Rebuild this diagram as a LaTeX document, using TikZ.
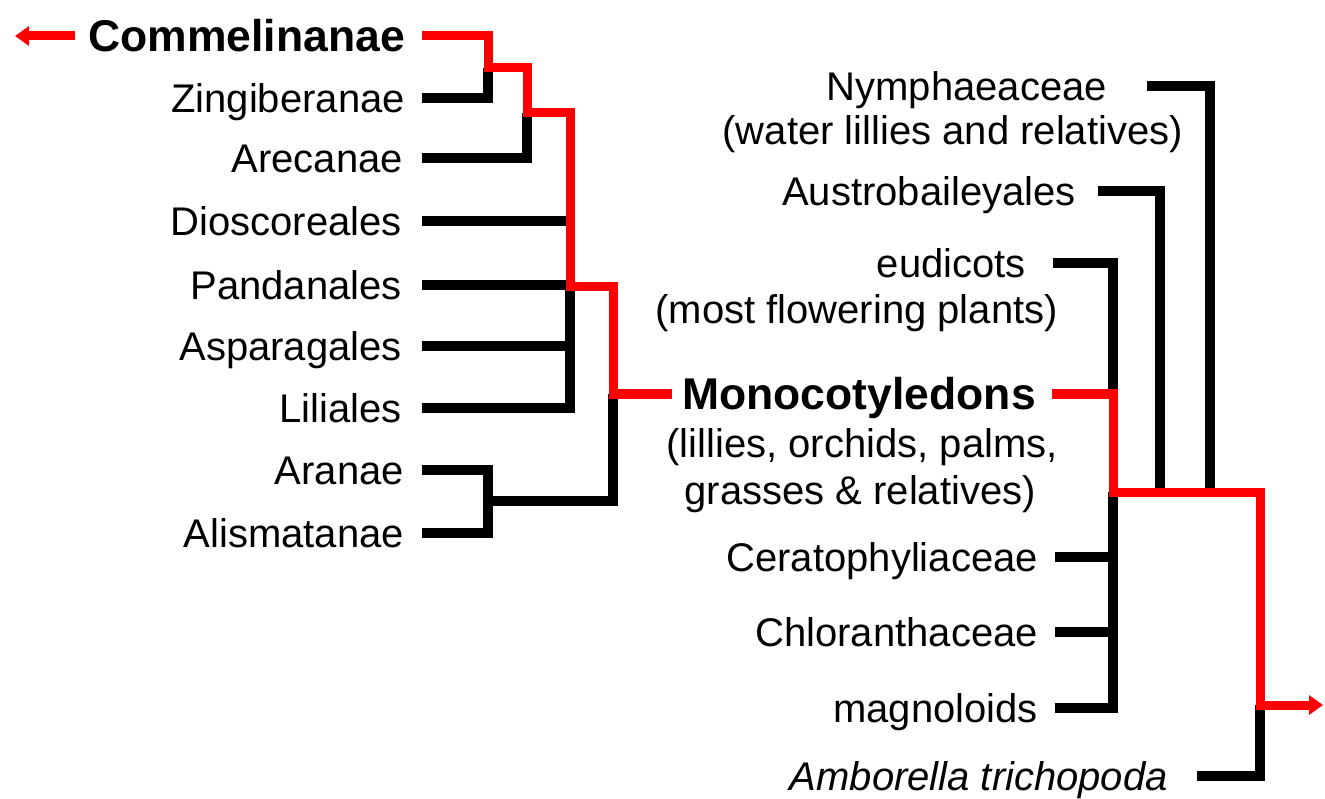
\documentclass[tikz,border=0pt]{standalone}
\usepackage{fontspec}
\setmainfont{Liberation Sans}
\usetikzlibrary{arrows.meta}
\begin{document}
\begin{tikzpicture}[x=1pt,y=-1pt,
  lbl/.style={inner sep=0pt, anchor=east, font=\fontsize{40}{44}\selectfont, text height=28.6pt, text depth=0pt},
  blbl/.style={inner sep=0pt, anchor=east, font=\fontsize{44.5}{48}\selectfont\bfseries, text height=31.8pt, text depth=0pt},
  blk/.style={line width=10pt, black, line cap=butt, line join=miter},
  rln/.style={line width=9pt, red, line cap=butt, line join=miter},
  tip/.style={-{Triangle[length=14pt,width=19pt]}}
]
\path[use as bounding box] (0,0) rectangle (1325,799);

% left labels
\node[blbl] (com) at (405,36) {Commelinanae};
\node[lbl] (zin) at (405,98) {Zingiberanae};
\node[lbl] (are) at (403,158) {Arecanae};
\node[lbl] (dio) at (402,221) {Dioscoreales};
\node[lbl] (pan) at (402,285) {Pandanales};
\node[lbl] (asp) at (402,346) {Asparagales};
\node[lbl] (lil) at (402,408) {Liliales};
\node[lbl] (ara) at (404,470) {Aranae};
\node[lbl] (ali) at (404,533) {Alismatanae};

% right labels
\node[lbl] (nym) at (1107,86) {Nymphaeaceae};
\node[lbl] (nyms) at (1183,130) {(water lillies and relatives)};
\node[lbl] (aus) at (1076,191) {Austrobaileyales};
\node[lbl] (eud) at (1026,263) {eudicots};
\node[lbl] (euds) at (1058,309) {(most flowering plants)};
\node[blbl] (mon) at (1036,394) {Monocotyledons};
\node[lbl] (mons1) at (1058,443) {(lillies, orchids, palms,};
\node[lbl] (mons2) at (1036,490) {grasses \& relatives)};
\node[lbl] (cer) at (1038,557) {Ceratophyliaceae};
\node[lbl] (chl) at (1038,632) {Chloranthaceae};
\node[lbl] (mag) at (1038,708) {magnoloids};
\node[lbl, font=\fontsize{40}{44}\selectfont\itshape] (amb) at (1168,776) {Amborella trichopoda};

% junction coordinates
\coordinate (j1) at (488,68);
\coordinate (j2) at (527,113);
\coordinate (j3) at (570,287);
\coordinate (j4) at (613,394);
\coordinate (j5) at (488,501);
\coordinate (k1) at (1113,394);
\coordinate (k2) at (1113,492);
\coordinate (k3) at (1260,705);
\coordinate (k4) at (1160,492);
\coordinate (k5) at (1210,492);
\coordinate (lend) at (15,36);
\coordinate (rend) at (1323,705);

% black branches (left)
\draw[blk] ([xshift=17pt]zin.east) -| (j1);
\draw[blk] ([xshift=19pt]are.east) -| (j2);
\draw[blk] ([xshift=20pt]dio.east) -- (dio.east -| j3);
\draw[blk] ([xshift=20pt]pan.east) -- (pan.east -| j3);
\draw[blk] ([xshift=20pt]asp.east) -- (asp.east -| j3);
\draw[blk] ([xshift=20pt]lil.east) -| (j3);
\draw[blk] ([xshift=18pt]ara.east) -| (ali.east -| j5) -- ([xshift=18pt]ali.east);
\draw[blk] (j5) -| (j4);

% black branches (right)
\draw[blk] ([xshift=40pt]nym.east) -| (k5);
\draw[blk] ([xshift=22pt]aus.east) -| (k4);
\draw[blk] ([xshift=27pt]eud.east) -| (k1);
\draw[blk] ([xshift=17pt]cer.east) -- (cer.east -| k2);
\draw[blk] ([xshift=17pt]chl.east) -- (chl.east -| k2);
\draw[blk] ([xshift=17pt]mag.east) -| (k2);
\draw[blk] ([xshift=29pt]amb.east) |- (amb.east -| k3) -- (k3);

% red lineage
\draw[rln, tip] ([xshift=-13pt]com.west) -- (lend);
\draw[rln] ([xshift=17pt]com.east) -| (j1) -| (j2) -| (j3) -| (j4) -- ([xshift=-10pt]mon.west);
\draw[rln, tip] ([xshift=16pt]mon.east) -| (k2) -| (k3) -- (rend);
\end{tikzpicture}
\end{document}
